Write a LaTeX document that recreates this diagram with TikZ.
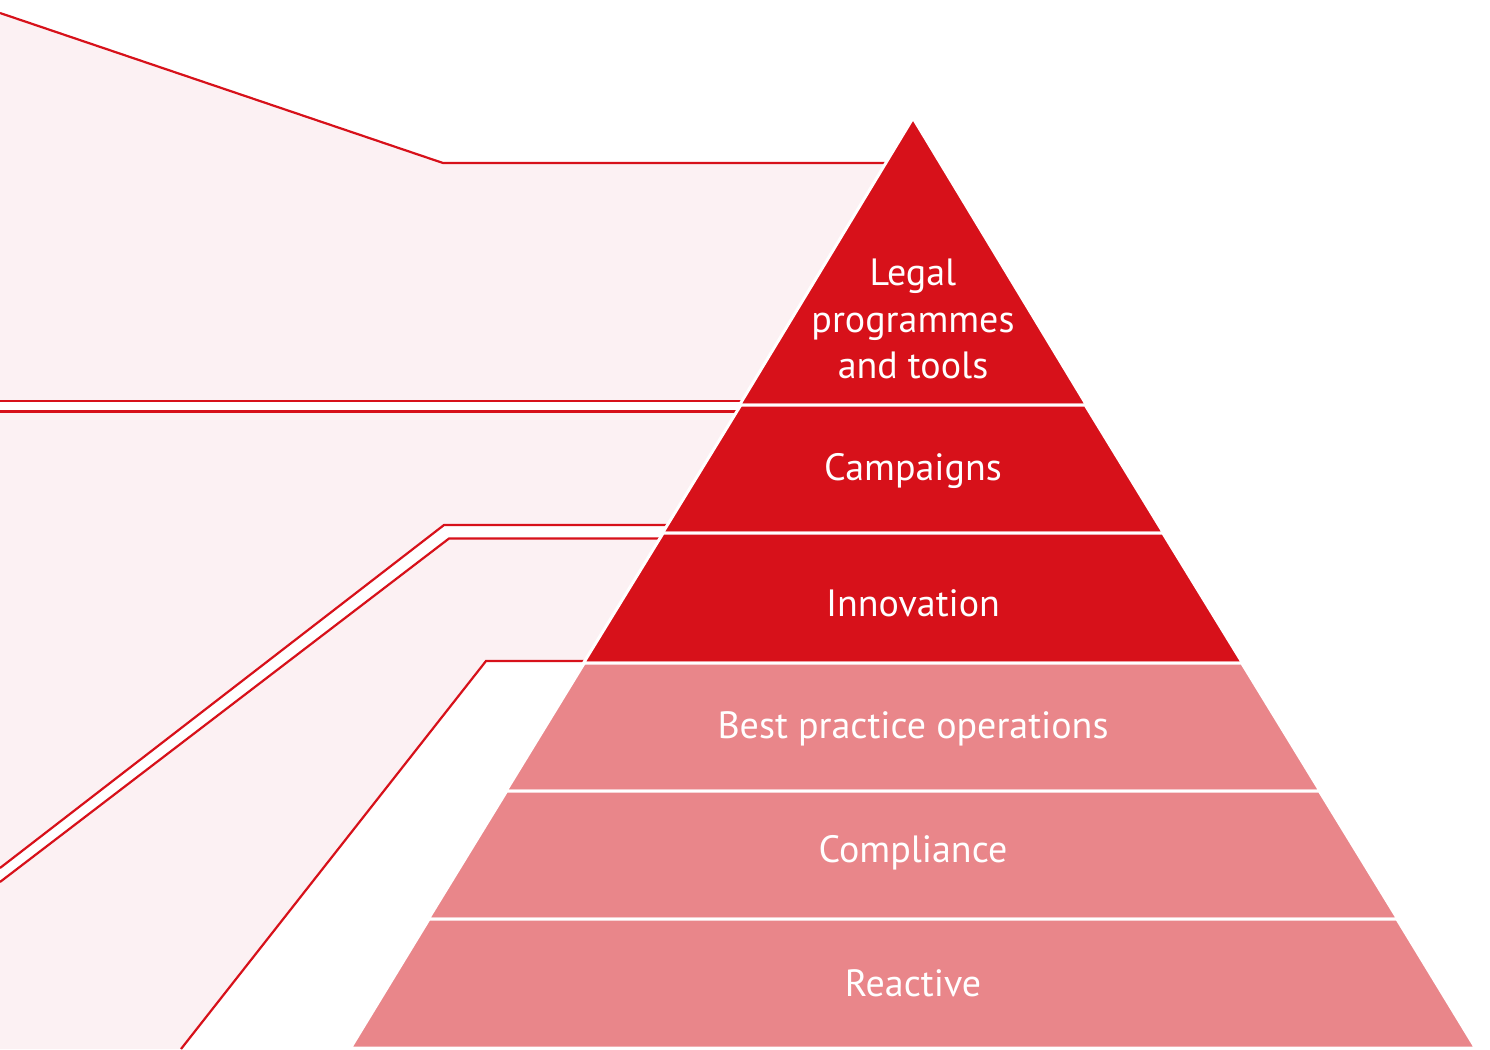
\documentclass[tikz,border=0pt]{standalone}
\usepackage{fontspec}
\setmainfont{PT Sans}
\definecolor{tierdark}{RGB}{215, 17, 26}
\definecolor{tierlight}{RGB}{233, 134, 138}
\definecolor{panelpink}{RGB}{252, 241, 243}
\definecolor{rimred}{RGB}{215, 17, 26}
\usetikzlibrary{positioning, calc}

\begin{document}
\begin{tikzpicture}[x=1pt, y=-1pt,
    panel/.style={fill=panelpink, draw=none},
    rim/.style={draw=rimred, line width=2.2pt, line join=miter},
    tier/.style={draw=white, line width=3pt, line join=miter},
    tierlabel/.style={text=white, font=\fontsize{38}{46.5}\selectfont, align=center, inner sep=0pt}]
  \useasboundingbox (0, 0) rectangle (1490, 1049);

  % Left panels
  \fill[panel] (0, 13) -- (443, 163) -- (887.5, 163) -- (743.2, 401) -- (0, 401) -- cycle;
  \fill[panel] (0, 411.5) -- (736.8, 411.5) -- (668, 525) -- (444, 525) -- (0, 868) -- cycle;
  \fill[panel] (449, 538.5) -- (659.8, 538.5) -- (585.5, 661) -- (486, 661) -- (181, 1049) -- (0, 1049) -- (0, 882) -- cycle;

  \draw[rim] (0, 13) -- (443, 163) -- (887.5, 163);
  \draw[rim] (743.2, 401) -- (0, 401);
  \draw[rim] (0, 411.5) -- (736.8, 411.5);
  \draw[rim] (668, 525) -- (444, 525) -- (0, 868);
  \draw[rim] (659.8, 538.5) -- (449, 538.5) -- (0, 882);
  \draw[rim] (585.5, 661) -- (486, 661) -- (181, 1049);

  % Pyramid tiers
  \filldraw[tier, fill=tierdark] (913, 118) -- (1086.5, 405) -- (739.5, 405) -- cycle;
  \filldraw[tier, fill=tierdark] (740.8, 405) -- (1085.2, 405) -- (1163.5, 533) -- (662.5, 533) -- cycle;
  \filldraw[tier, fill=tierdark] (663.2, 533) -- (1162.8, 533) -- (1242.5, 663) -- (583.5, 663) -- cycle;
  \filldraw[tier, fill=tierlight] (584.3, 663) -- (1241.7, 663) -- (1320, 791) -- (506, 791) -- cycle;
  \filldraw[tier, fill=tierlight] (506.7, 791) -- (1319.3, 791) -- (1397.7, 919) -- (428.3, 919) -- cycle;
  \filldraw[tier, fill=tierlight] (429.1, 919) -- (1396.9, 919) -- (1475.5, 1048) -- (350.5, 1048) -- cycle;

  % Tier labels
  \node[tierlabel] (legal) at (913, 319) {Legal\\programmes\\and tools};
  \node[tierlabel] (campaigns) at (913, 471) {Campaigns};
  \node[tierlabel] (innovation) at (913, 603) {Innovation};
  \node[tierlabel] (bestpractice) at (913, 729) {Best practice operations};
  \node[tierlabel] (compliance) at (913, 853) {Compliance};
  \node[tierlabel] (reactive) at (913, 983) {Reactive};
\end{tikzpicture}
\end{document}
